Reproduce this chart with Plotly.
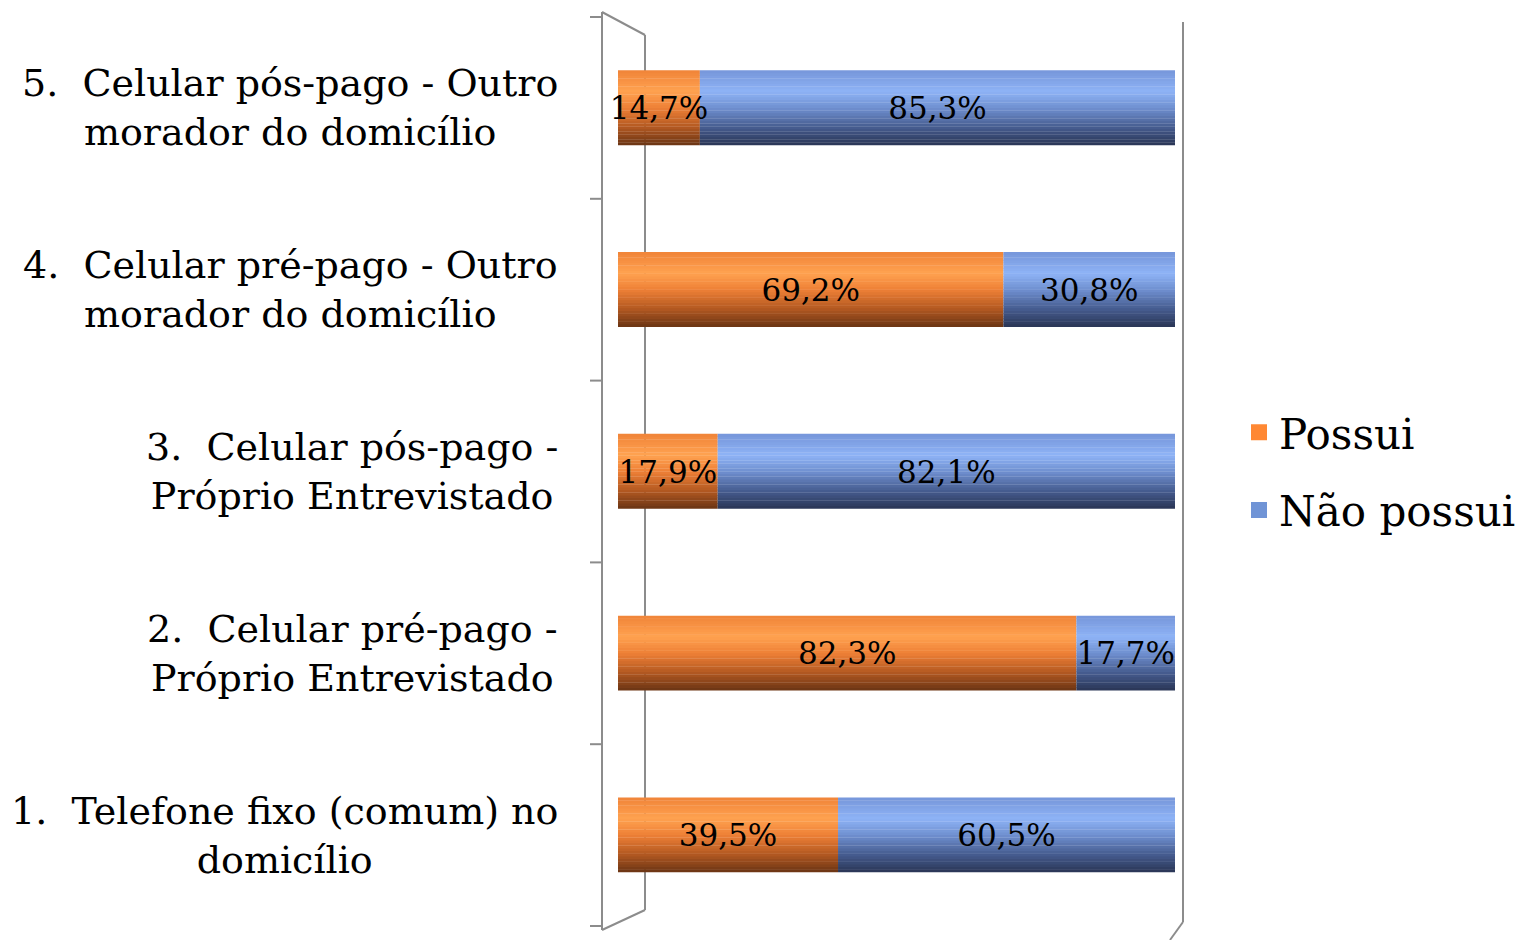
import plotly.graph_objects as go

# categories, bottom to top
categories = [
    "1.\u00a0 Telefone fixo (comum) no<br>domicílio",
    "2.\u00a0 Celular pré-pago -<br>Próprio Entrevistado",
    "3.\u00a0 Celular pós-pago -<br>Próprio Entrevistado",
    "4.\u00a0 Celular pré-pago - Outro<br>morador do domicílio",
    "5.\u00a0 Celular pós-pago - Outro<br>morador do domicílio",
]
possui = [39.5, 82.3, 17.9, 69.2, 14.7]
nao_possui = [60.5, 17.7, 82.1, 30.8, 85.3]
series_names = ["Possui", "Não possui"]

FONT = "DejaVu Serif"
W, H = 1530, 940
PAGE_OFF = 8  # body margin of the html page
ML, MR, MT, MB = 610, 363, 9, 22
BAR_W = 0.41
N_BANDS = 28

# cylinder shading, (position from bottom, colour)
ORANGE_STOPS = [(0.0, (0x6A, 0x34, 0x14)), (0.25, (0xB5, 0x5A, 0x22)),
                (0.5, (0xEE, 0x80, 0x36)), (0.72, (0xFF, 0xA2, 0x50)),
                (1.0, (0xF0, 0x84, 0x38))]
BLUE_STOPS = [(0.0, (0x2A, 0x35, 0x55)), (0.25, (0x47, 0x5E, 0x92)),
              (0.5, (0x70, 0x90, 0xD0)), (0.72, (0x8E, 0xB3, 0xF6)),
              (1.0, (0x76, 0x96, 0xDA))]
LEGEND_COLORS = ["#FF8833", "#7094D6"]


def fmt(v):
    return f"{v:.1f}%".replace(".", ",")


def shade(stops, t):
    for (t0, c0), (t1, c1) in zip(stops, stops[1:]):
        if t <= t1:
            f = (t - t0) / (t1 - t0)
            rgb = [round(a + (b - a) * f) for a, b in zip(c0, c1)]
            return "rgb({},{},{})".format(*rgb)
    return "rgb({},{},{})".format(*stops[-1][1])


def paper(xp, yp):
    """page pixel position -> paper coordinates"""
    pw = W - ML - MR
    ph = H - MT - MB
    return (xp - PAGE_OFF - ML) / pw, (H - MB - (yp - PAGE_OFF)) / ph


fig = go.Figure()

bases = [[0] * len(possui), possui]
values = [possui, nao_possui]
stops_list = [ORANGE_STOPS, BLUE_STOPS]

for vals, base, stops in zip(values, bases, stops_list):
    for i in range(N_BANDS):
        fig.add_trace(go.Bar(
            x=vals, y=categories, base=base, orientation="h",
            width=BAR_W / N_BANDS + 0.002,
            offset=-BAR_W / 2 + i * BAR_W / N_BANDS,
            marker=dict(color=shade(stops, (i + 0.5) / N_BANDS), line_width=0),
            showlegend=False, hoverinfo="skip",
        ))

# value labels on top
for vals, base in zip(values, bases):
    fig.add_trace(go.Bar(
        x=vals, y=categories, base=base, orientation="h",
        width=BAR_W, offset=-BAR_W / 2,
        marker=dict(color="rgba(0,0,0,0)", line_width=0),
        text=[fmt(v) for v in vals], textposition="inside",
        insidetextanchor="middle", textangle=0, constraintext="none",
        cliponaxis=False,
        textfont=dict(family=FONT, size=31, color="black"),
        showlegend=False, hoverinfo="skip",
    ))

# legend proxies
for name, c in zip(series_names, LEGEND_COLORS):
    fig.add_trace(go.Scatter(
        x=[None], y=[None], mode="markers", name=name, legendgroup=name,
        marker=dict(symbol="square", size=16, color=c),
    ))

# category labels, centred lines like the original
for cat in categories:
    fig.add_annotation(
        x=0, xref="paper", xshift=-58, y=cat, yref="y",
        text=cat, showarrow=False, xanchor="right", align="center",
        font=dict(family=FONT, size=38, color="black"),
    )

# 3D walls, behind the bars
LINE = dict(color="#8C8C8C", width=2)
walls = [
    ((602, 12), (602, 930)),
    ((645, 35), (645, 910)),
    ((602, 12), (645, 35)),
    ((602, 930), (645, 910)),
    ((1183, 22), (1183, 922)),
    ((1183, 922), (1170, 940)),
]
for (x0, y0), (x1, y1) in walls:
    px0, py0 = paper(x0, y0)
    px1, py1 = paper(x1, y1)
    fig.add_shape(type="line", xref="paper", yref="paper", layer="below",
                  x0=px0, y0=py0, x1=px1, y1=py1, line=LINE)
for k in range(len(categories) + 1):
    tx0, _ = paper(590, 0)
    tx1, _ = paper(602, 0)
    fig.add_shape(type="line", xref="paper", yref="paper", layer="below",
                  x0=tx0, x1=tx1, y0=k / len(categories), y1=k / len(categories),
                  line=LINE)

fig.update_layout(
    width=W, height=H,
    margin=dict(l=ML, r=MR, t=MT, b=MB, autoexpand=False),
    barmode="overlay",
    plot_bgcolor="white", paper_bgcolor="white",
    font=dict(family=FONT, color="black"),
    xaxis=dict(range=[0, 100], visible=False),
    yaxis=dict(categoryorder="array", categoryarray=categories,
               range=[-0.5, len(categories) - 0.5],
               showticklabels=False, showgrid=False, zeroline=False),
    legend=dict(x=paper(1239, 0)[0], y=0.5, xanchor="left", yanchor="middle",
                font=dict(family=FONT, size=42), itemsizing="trace",
                traceorder="grouped", tracegroupgap=20,
                bgcolor="rgba(0,0,0,0)"),
)

fig.write_html("out.html")
